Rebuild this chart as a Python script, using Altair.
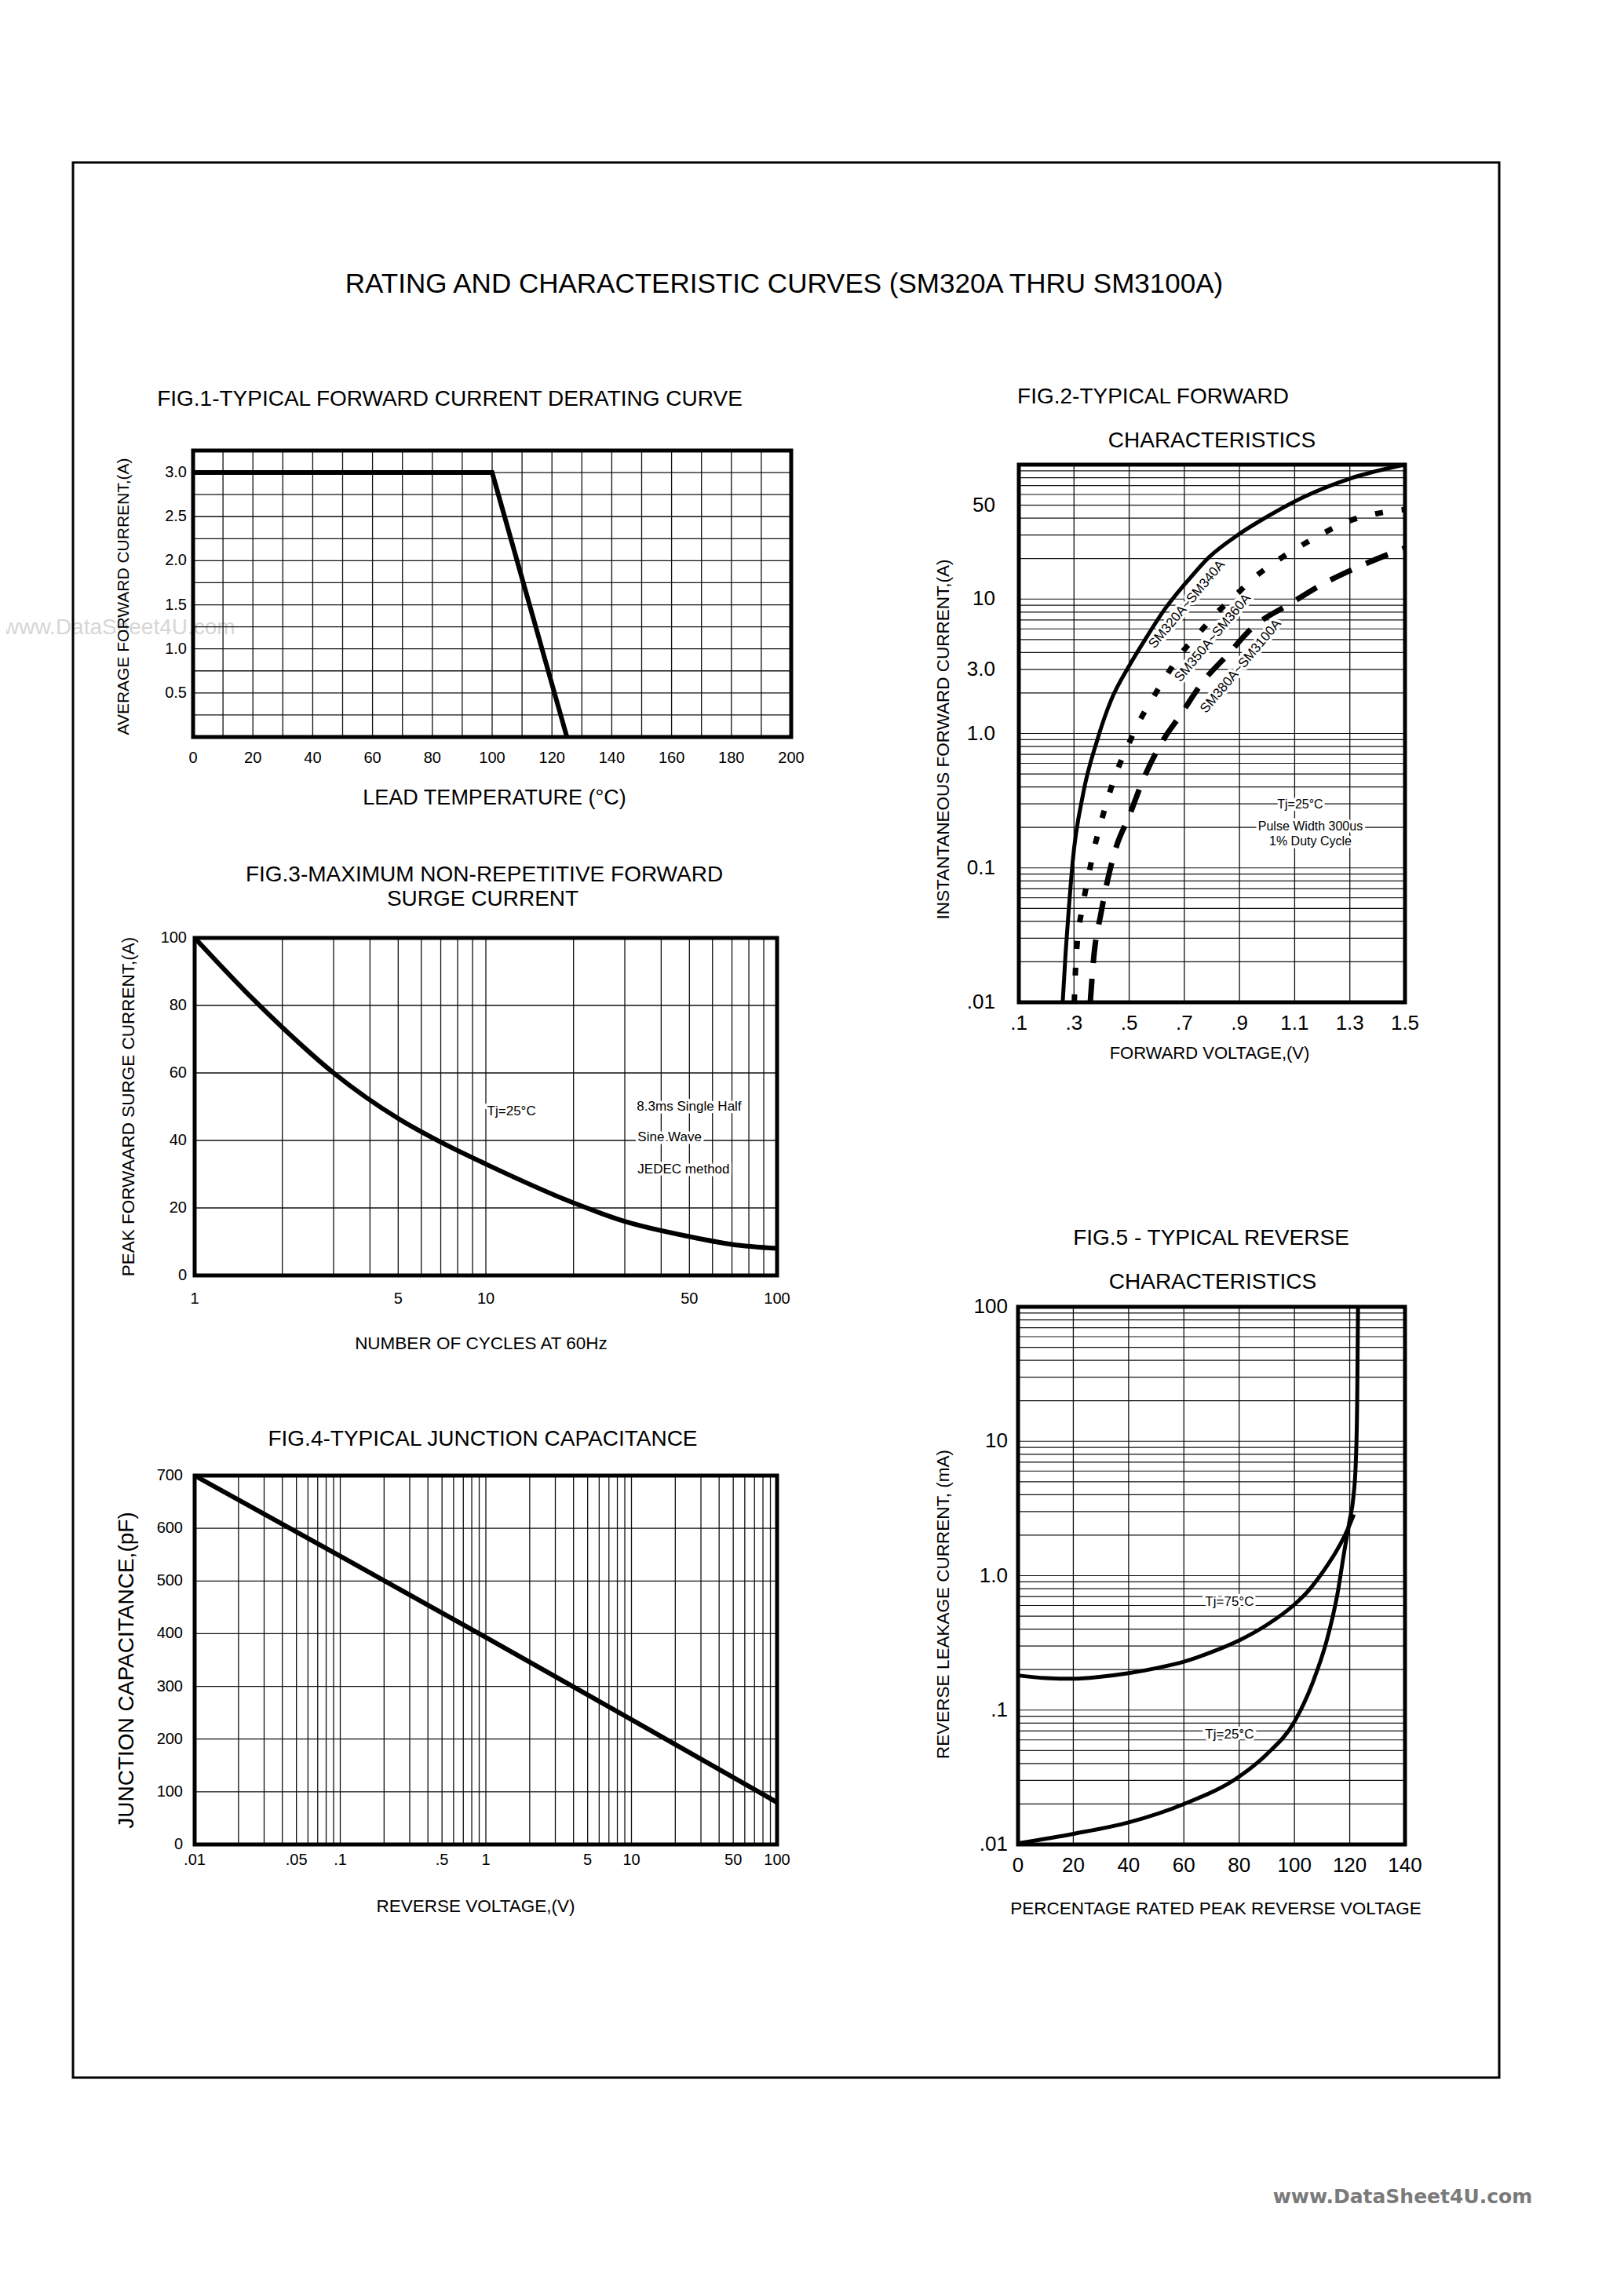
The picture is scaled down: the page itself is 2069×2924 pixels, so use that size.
import altair as alt
import pandas as pd

OX, OY = 8, 8
W, H = 2053, 2908
FONT = "Liberation Sans, Arial, Helvetica, sans-serif"
INK = "#111111"

# ------------------------------------------------------------------ data
# FIG.1 forward current derating curve
f1_temp = [0, 100, 125]
f1_current = [3.0, 3.0, 0.0]
f1_x_ticks = [0, 20, 40, 60, 80, 100, 120, 140, 160, 180, 200]
f1_y_ticks = [0.5, 1.0, 1.5, 2.0, 2.5, 3.0]
f1_y_labels = ["0.5", "1.0", "1.5", "2.0", "2.5", "3.0"]

# FIG.2 typical forward characteristics
f2_v_320 = [0.259, 0.270, 0.282, 0.295, 0.333, 0.384, 0.435, 0.499, 0.563, 0.627, 0.703, 0.792, 0.894, 1.009, 1.137, 1.302, 1.5]
f2_i_320 = [0.01, 0.024, 0.052, 0.11, 0.355, 0.89, 1.78, 3.16, 5.2, 8.3, 13.0, 20.7, 30.0, 42.0, 58.0, 79.0, 100.0]
f2_v_350 = [0.301, 0.308, 0.333, 0.352, 0.372, 0.397, 0.423, 0.455, 0.493, 0.535, 0.582, 0.633, 0.684, 0.754, 0.818, 0.888, 0.958, 1.035, 1.124, 1.213, 1.296, 1.392, 1.5]
f2_i_350 = [0.01, 0.022, 0.054, 0.086, 0.136, 0.215, 0.33, 0.52, 0.79, 1.21, 1.78, 2.65, 3.83, 5.6, 7.9, 10.8, 14.7, 19.2, 25.0, 31.6, 38.0, 43.0, 46.4]
f2_v_380 = [0.359, 0.372, 0.397, 0.423, 0.455, 0.499, 0.55, 0.614, 0.69, 0.767, 0.856, 0.945, 1.085, 1.213, 1.343, 1.5]
f2_i_380 = [0.01, 0.022, 0.045, 0.083, 0.147, 0.24, 0.45, 0.83, 1.41, 2.42, 3.83, 6.07, 9.26, 13.3, 17.8, 24.0]
f2_x_ticks = [0.1, 0.3, 0.5, 0.7, 0.9, 1.1, 1.3, 1.5]
f2_x_labels = [".1", ".3", ".5", ".7", ".9", "1.1", "1.3", "1.5"]
f2_y_ticks = [0.01, 0.1, 1.0, 3.0, 10, 50]
f2_y_labels = [".01", "0.1", "1.0", "3.0", "10", "50"]
f2_series_names = ["SM320A~SM340A", "SM350A~SM360A", "SM380A~SM3100A"]
f2_series_label_v = [0.709, 0.803, 0.905]
f2_series_label_i = [9.13, 5.13, 3.16]
f2_notes = ["Tj=25°C", "Pulse Width 300us", "1% Duty Cycle"]
f2_notes_v = [1.12, 1.157, 1.157]
f2_notes_i = [0.296, 0.203, 0.157]

# FIG.3 maximum non-repetitive forward surge current
f3_cycles = [1, 1.5, 2, 3, 5, 7, 10, 20, 30, 50, 70, 100]
f3_current = [100, 84, 73.5, 60, 46.5, 39.5, 33, 21.5, 16, 11.5, 9.2, 8.0]
f3_x_ticks = [1, 5, 10, 50, 100]
f3_x_labels = ["1", "5", "10", "50", "100"]
f3_y_ticks = [0, 20, 40, 60, 80, 100]
f3_notes = ["Tj=25°C", "8.3ms Single Half", "Sine Wave", "JEDEC method"]
f3_notes_n = [10.1, 33.0, 33.2, 33.2]
f3_notes_a = [48.5, 50.0, 41.0, 31.3]

# FIG.4 typical junction capacitance
f4_volts = [0.01, 0.1, 1, 10, 100]
f4_pf = [700, 547, 393, 237, 80]
f4_x_ticks = [0.01, 0.05, 0.1, 0.5, 1, 5, 10, 50, 100]
f4_x_labels = [".01", ".05", ".1", ".5", "1", "5", "10", "50", "100"]
f4_y_ticks = [0, 100, 200, 300, 400, 500, 600, 700]

# FIG.5 typical reverse characteristics
f5_pct_75 = [0, 10, 20, 30, 40, 50, 60, 70, 80, 90, 100, 105, 109, 112, 115, 118, 120, 121.5]
f5_ma_75 = [0.181, 0.173, 0.171, 0.177, 0.188, 0.205, 0.229, 0.27, 0.33, 0.43, 0.61, 0.77, 0.98, 1.2, 1.5, 1.95, 2.4, 2.85]
f5_pct_25 = [0, 20, 40, 60, 80, 90, 100, 106.6, 111.7, 115.5, 118, 120, 121.3, 122.2, 122.7, 123.0]
f5_ma_25 = [0.0102, 0.012, 0.0146, 0.02, 0.032, 0.047, 0.082, 0.16, 0.33, 0.72, 1.5, 2.6, 3.8, 7.0, 20.0, 100.0]
f5_x_ticks = [0, 20, 40, 60, 80, 100, 120, 140]
f5_y_ticks = [0.01, 0.1, 1.0, 10, 100]
f5_y_labels = [".01", ".1", "1.0", "10", "100"]
f5_notes = ["Tj=75°C", "Tj=25°C"]
f5_notes_x = [76.5, 76.5]
f5_notes_y = [0.637, 0.066]

# grid positions
LOG_4DEC = [round(k * 10 ** e, 6) for e in range(-2, 2) for k in range(1, 10)][1:]
LOG_2DEC = [k * 10 ** e for e in range(0, 2) for k in range(1, 10)][1:]

# ------------------------------------------------------------------ helpers
dummy = pd.DataFrame({"d": [0]})


def scale(kind, dom, rng):
    if kind == "log":
        return alt.Scale(type="log", domain=dom, range=rng, nice=False)
    return alt.Scale(type="linear", domain=dom, range=rng, nice=False, zero=False)


def txt(s, x, y, size, angle=0, align="center", baseline="alphabetic", font=FONT,
        color="black", weight="normal"):
    kw = dict(text=s, fontSize=size, font=font, align=align, baseline=baseline,
              color=color, fontWeight=weight)
    if angle:
        kw["angle"] = angle
    return alt.Chart(dummy).mark_text(**kw).encode(x=alt.value(x - OX), y=alt.value(y - OY))


class Panel:
    def __init__(self, xkind, xdom, xr, ykind, ydom, yr):
        self.xs = scale(xkind, xdom, [xr[0] - OX, xr[1] - OX])
        self.ys = scale(ykind, ydom, [yr[0] - OY, yr[1] - OY])
        self.xdom, self.ydom = xdom, ydom

    def X(self, f):
        return alt.X(field=f, type="quantitative", scale=self.xs, axis=None)

    def Y(self, f):
        return alt.Y(field=f, type="quantitative", scale=self.ys, axis=None)

    def vgrid(self, vals, w=1.3):
        df = pd.DataFrame({"v": vals, "lo": self.ydom[0], "hi": self.ydom[1]})
        return alt.Chart(df).mark_rule(color=INK, strokeWidth=w).encode(
            x=self.X("v"), y=self.Y("lo"), y2=alt.Y2(field="hi"))

    def hgrid(self, vals, w=1.3):
        df = pd.DataFrame({"v": vals, "lo": self.xdom[0], "hi": self.xdom[1]})
        return alt.Chart(df).mark_rule(color=INK, strokeWidth=w).encode(
            y=self.Y("v"), x=self.X("lo"), x2=alt.X2(field="hi"))

    def frame(self, w=5):
        df = pd.DataFrame({"a": [self.xdom[0]], "b": [self.xdom[1]],
                           "c": [self.ydom[0]], "d": [self.ydom[1]]})
        return alt.Chart(df).mark_rect(filled=False, stroke="black", strokeWidth=w).encode(
            x=self.X("a"), x2=alt.X2(field="b"), y=self.Y("c"), y2=alt.Y2(field="d"))

    def curve(self, xs, ys, w=5, dash=None, interp="monotone"):
        df = pd.DataFrame({"x": xs, "y": ys})
        kw = dict(color="black", strokeWidth=w, interpolate=interp, strokeCap="butt")
        if dash:
            kw["strokeDash"] = dash
        return alt.Chart(df).mark_line(**kw).encode(x=self.X("x"), y=self.Y("y"))

    def xlabels(self, vals, labels, dy, size):
        df = pd.DataFrame({"v": vals, "t": labels, "b": self.ydom[0]})
        return alt.Chart(df).mark_text(font=FONT, fontSize=size, align="center",
                                       baseline="middle", dy=dy, color="black").encode(
            x=self.X("v"), y=self.Y("b"), text=alt.Text("t:N"))

    def ylabels(self, vals, labels, dx, size):
        df = pd.DataFrame({"v": vals, "t": labels, "b": self.xdom[0]})
        return alt.Chart(df).mark_text(font=FONT, fontSize=size, align="right",
                                       baseline="middle", dx=dx, color="black").encode(
            x=self.X("b"), y=self.Y("v"), text=alt.Text("t:N"))

    def notes(self, xs, ys, texts, size, align="center", angle=0, halo=7):
        df = pd.DataFrame({"x": xs, "y": ys, "t": texts})
        kw = dict(font=FONT, fontSize=size, align=align, baseline="middle")
        if angle:
            kw["angle"] = angle
        back = alt.Chart(df).mark_text(color="white", stroke="white", strokeWidth=halo,
                                       strokeJoin="round", **kw).encode(
            x=self.X("x"), y=self.Y("y"), text=alt.Text("t:N"))
        front = alt.Chart(df).mark_text(color="black", **kw).encode(
            x=self.X("x"), y=self.Y("y"), text=alt.Text("t:N"))
        return [back, front]


layers = []

# watermark (left, faint)
layers.append(txt("www.DataSheet4U.com", 4, 808, 28, align="left", color="#d6d6d6"))

# outer border
layers.append(alt.Chart(dummy).mark_rect(filled=False, stroke="black", strokeWidth=3).encode(
    x=alt.value(93 - OX), x2=alt.value(1910 - OX), y=alt.value(207 - OY), y2=alt.value(2647 - OY)))

# main title
layers.append(txt("RATING AND CHARACTERISTIC CURVES (SM320A THRU SM3100A)", 999, 373, 35))

# ---------------- FIG.1
p1 = Panel("linear", [0, 200], (246, 1008), "linear", [0, 3.25], (939, 574))
layers += [
    p1.vgrid(list(range(10, 200, 10))),
    p1.hgrid([0.25 * k for k in range(1, 13)]),
    p1.curve(f1_temp, f1_current, w=6, interp="linear"),
    p1.frame(5),
    p1.xlabels(f1_x_ticks, [str(v) for v in f1_x_ticks], 27, 20),
    p1.ylabels(f1_y_ticks, f1_y_labels, -8, 20),
    txt("FIG.1-TYPICAL FORWARD CURRENT DERATING CURVE", 573, 517, 28),
    txt("LEAD TEMPERATURE (°C)", 630, 1025, 27),
    txt("AVERAGE FORWARD CURRENT,(A)", 158, 760, 21, angle=270, baseline="middle"),
]

# ---------------- FIG.2
p2 = Panel("linear", [0.1, 1.5], (1298, 1790), "log", [0.01, 100], (1277, 592))
layers += [
    p2.vgrid([0.3, 0.5, 0.7, 0.9, 1.1, 1.3]),
    p2.hgrid(LOG_4DEC, w=1.2),
]
layers += p2.notes(f2_notes_v, f2_notes_i, f2_notes, 16)
layers += p2.notes(f2_series_label_v, f2_series_label_i, f2_series_names, 17, angle=310)
layers += [
    p2.curve(f2_v_320, f2_i_320, w=5),
    p2.curve(f2_v_350, f2_i_350, w=7, dash=[10, 24]),
    p2.curve(f2_v_380, f2_i_380, w=7, dash=[30, 20]),
    p2.frame(5),
    p2.xlabels(f2_x_ticks, f2_x_labels, 27, 26),
    p2.ylabels(f2_y_ticks, f2_y_labels, -30, 26),
    txt("FIG.2-TYPICAL FORWARD", 1469, 514, 28),
    txt("CHARACTERISTICS", 1544, 570, 28),
    txt("FORWARD VOLTAGE,(V)", 1541, 1349, 22),
    txt("INSTANTANEOUS FORWARD CURRENT,(A)", 1202, 942, 22.5, angle=270, baseline="middle"),
]

# ---------------- FIG.3
p3 = Panel("log", [1, 100], (248, 990), "linear", [0, 100], (1625, 1195))
layers += [
    p3.vgrid(LOG_2DEC),
    p3.hgrid([20, 40, 60, 80]),
]
layers += p3.notes(f3_notes_n, f3_notes_a, f3_notes, 17, align="left")
layers += [
    p3.curve(f3_cycles, f3_current, w=6),
    p3.frame(5),
    p3.xlabels(f3_x_ticks, f3_x_labels, 30, 20),
    p3.ylabels(f3_y_ticks, [str(v) for v in f3_y_ticks], -10, 20),
    txt("FIG.3-MAXIMUM NON-REPETITIVE FORWARD", 617, 1123, 28),
    txt("SURGE CURRENT", 615, 1154, 28),
    txt("NUMBER OF CYCLES AT 60Hz", 613, 1719, 22.5),
    txt("PEAK FORWAARD SURGE CURRENT,(A)", 164, 1410, 22.5, angle=270, baseline="middle"),
]

# ---------------- FIG.4
p4 = Panel("log", [0.01, 100], (248, 990), "linear", [0, 700], (2350, 1880))
layers += [
    p4.vgrid(LOG_4DEC),
    p4.hgrid([100, 200, 300, 400, 500, 600]),
    p4.curve(f4_volts, f4_pf, w=6, interp="linear"),
    p4.frame(5),
    p4.xlabels(f4_x_ticks, f4_x_labels, 20, 20),
    p4.ylabels(f4_y_ticks, [str(v) for v in f4_y_ticks], -15, 20),
    txt("FIG.4-TYPICAL JUNCTION CAPACITANCE", 615, 1842, 28),
    txt("REVERSE VOLTAGE,(V)", 606, 2436, 22.5),
    txt("JUNCTION CAPACITANCE,(pF)", 162, 2128, 28, angle=270, baseline="middle"),
]

# ---------------- FIG.5
p5 = Panel("linear", [0, 140], (1297, 1790), "log", [0.01, 100], (2350, 1665))
layers += [
    p5.vgrid([20, 40, 60, 80, 100, 120]),
    p5.hgrid(LOG_4DEC, w=1.2),
]
layers += p5.notes(f5_notes_x, f5_notes_y, f5_notes, 17)
layers += [
    p5.curve(f5_pct_75, f5_ma_75, w=5),
    p5.curve(f5_pct_25, f5_ma_25, w=5),
    p5.frame(5),
    p5.xlabels(f5_x_ticks, [str(v) for v in f5_x_ticks], 27, 26),
    p5.ylabels(f5_y_ticks, f5_y_labels, -13, 26),
    txt("FIG.5 - TYPICAL REVERSE", 1543, 1586, 28),
    txt("CHARACTERISTICS", 1545, 1642, 28),
    txt("PERCENTAGE RATED PEAK REVERSE VOLTAGE", 1549, 2439, 22.5),
    txt("REVERSE LEAKAGE CURRENT, (mA)", 1202, 2044, 22.5, angle=270, baseline="middle"),
]

# bottom-right watermark
layers.append(txt("www.DataSheet4U.com", 1787, 2807, 25, font="DejaVu Sans, Verdana, sans-serif",
                  color="#7a7a7a", weight="bold"))

chart = alt.layer(*layers).resolve_scale(x="independent", y="independent").properties(
    width=W, height=H, autosize=alt.AutoSizeParams(type="none"), padding=0,
).configure_view(strokeWidth=0)

chart.save("out.html", embed_options={"renderer": "svg", "actions": False})
